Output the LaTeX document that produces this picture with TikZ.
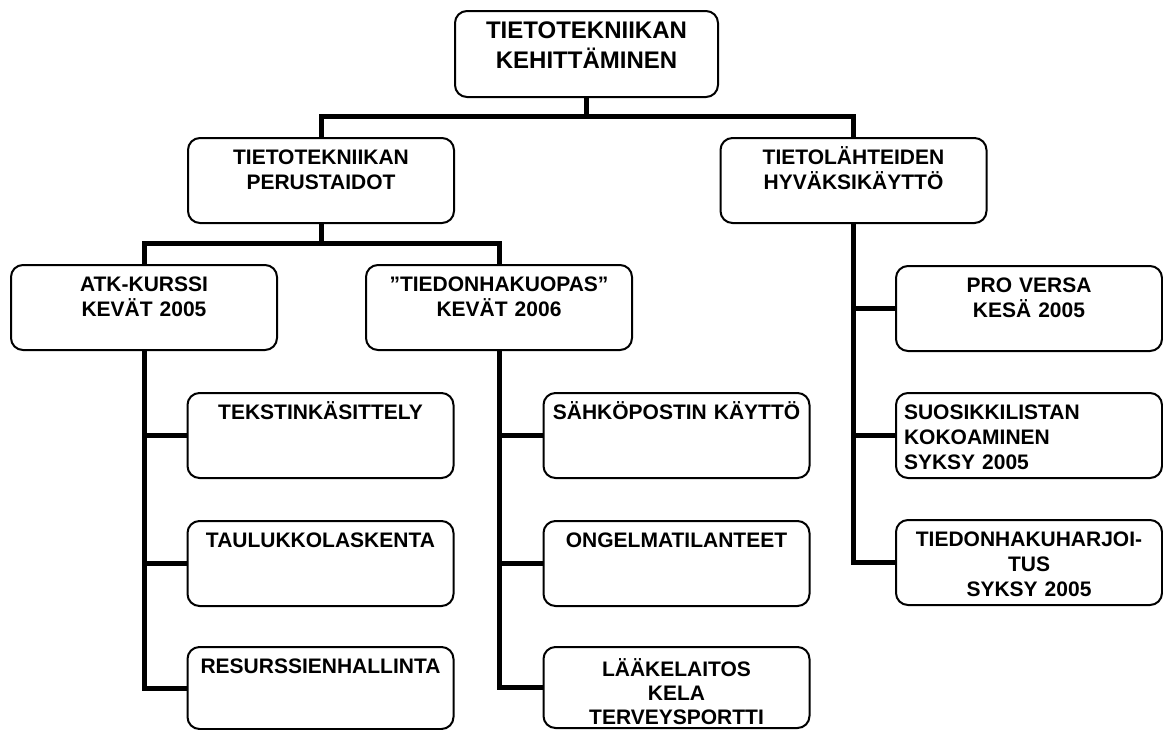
\documentclass[tikz,border=0pt]{standalone}
\usepackage{fontspec}
\setmainfont{Liberation Sans}
\begin{document}
\begin{tikzpicture}[x=0.75pt,y=-0.75pt,
  box/.style={draw, line width=1.5pt, rounded corners=9pt, inner xsep=0pt, inner ysep=0pt,
    anchor=north, align=center, text width=199.5pt, text height=19.5pt, text depth=44.25pt,
    font=\fontsize{15.75pt}{18.75pt}\selectfont\bfseries},
  topbox/.style={box, text width=197.25pt, text height=20.25pt, text depth=44.25pt,
    font=\fontsize{18pt}{22.5pt}\selectfont\bfseries},
  conn/.style={line width=3.75pt, line join=miter}]
\useasboundingbox[fill=white] (0,0) rectangle (1163,729);
% level 0
\node[topbox] (top) at (586.5,10) {TIETOTEKNIIKAN\\KEHITTÄMINEN};
% level 1
\node[box] (pers) at (321,137) {TIETOTEKNIIKAN\\PERUSTAIDOT};
\node[box] (lahde) at (853.5,137) {TIETOLÄHTEIDEN\\HYVÄKSIKÄYTTÖ};
% level 2
\node[box] (atk) at (144,264) {ATK-KURSSI\\KEVÄT 2005};
\node[box] (tied) at (499,264) {”TIEDONHAKUOPAS”\\KEVÄT 2006};
% left leaves
\node[box] (l1) at (320.5,392) {TEKSTINKÄSITTELY};
\node[box] (l2) at (320.5,520) {TAULUKKOLASKENTA};
\node[box, text depth=42pt] (l3) at (320.5,646) {RESURSSIENHALLINTA};
% middle leaves
\node[box, text height=21.75pt, text depth=39pt, font=\fontsize{15.75pt}{18pt}\selectfont\bfseries] (m3) at (676.5,646) {LÄÄKELAITOS\\KELA\\TERVEYSPORTTI};
\node[box] (m1) at (676.5,392) {SÄHKÖPOSTIN KÄYTTÖ};
\node[box] (m2) at (676.5,520) {ONGELMATILANTEET};
% right leaves
\node[box] (r1) at (1029,265) {PRO VERSA\\KESÄ 2005};
\node[box, align=left, inner xsep=6pt, text width=187.5pt] (r2) at (1029,392) {SUOSIKKILISTAN\\KOKOAMINEN\\SYKSY 2005};
\node[box] (r3) at (1029,519) {TIEDONHAKUHARJOI-\\TUS\\SYKSY 2005};
% connectors
\coordinate (j1) at (586.5,116);
\coordinate (j2) at (321,243);
\draw[conn] (top.south) -- (j1);
\draw[conn] (pers.north) |- (j1) -| (lahde.north);
\draw[conn] (pers.south) -- (j2);
\draw[conn] (atk.north) |- (j2) -| (tied.north);
\draw[conn] (atk.south) |- (l3.west);
\draw[conn] (atk.south |- l1.west) -- (l1.west);
\draw[conn] (atk.south |- l2.west) -- (l2.west);
\draw[conn] (tied.south) |- (m3.west);
\draw[conn] (tied.south |- m1.west) -- (m1.west);
\draw[conn] (tied.south |- m2.west) -- (m2.west);
\draw[conn] (lahde.south) |- (r3.west);
\draw[conn] (lahde.south |- r1.west) -- (r1.west);
\draw[conn] (lahde.south |- r2.west) -- (r2.west);
\end{tikzpicture}
\end{document}
